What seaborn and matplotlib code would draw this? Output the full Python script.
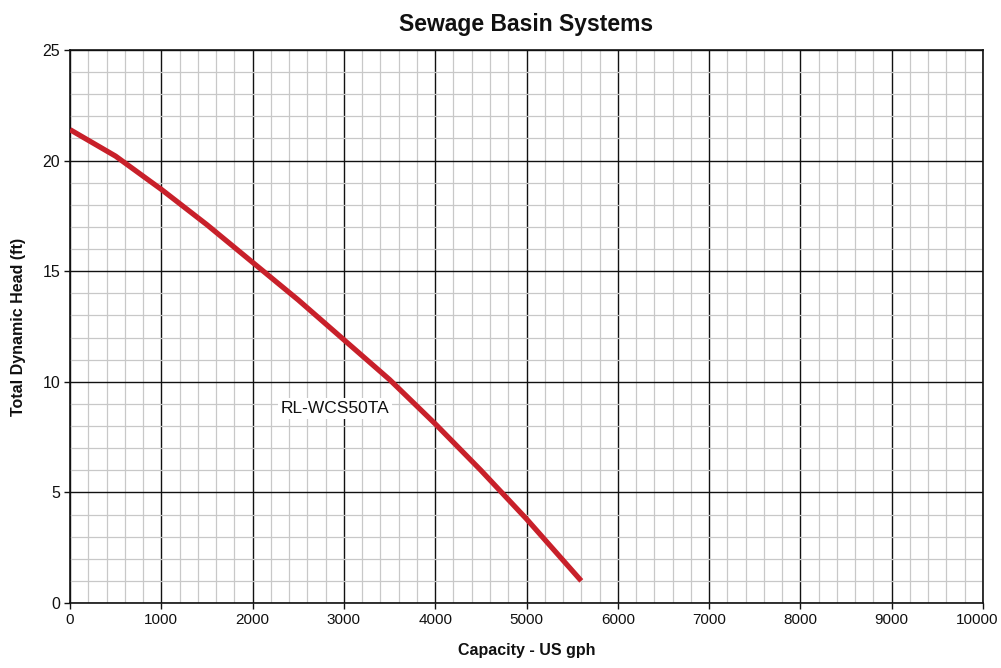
import matplotlib
matplotlib.use("Agg")
import matplotlib.pyplot as plt
import seaborn as sns
import pandas as pd
import numpy as np
from matplotlib.ticker import MultipleLocator, FuncFormatter
from matplotlib import font_manager

capacity = [0, 500, 1000, 1500, 2000, 2500, 3000, 3500, 4000, 4500, 5000, 5600]
head = [21.4, 20.2, 18.7, 17.1, 15.4, 13.7, 11.9, 10.1, 8.1, 6.0, 3.8, 1.0]
model_label = "RL-WCS50TA"
title = "Sewage Basin Systems"
xlabel = "Capacity - US gph"
ylabel = "Total Dynamic Head (ft)"
x_max = 10000

sns.set_theme(style="white")
names = {f.name for f in font_manager.fontManager.ttflist}
fam = "Liberation Sans Narrow" if "Liberation Sans Narrow" in names else "Liberation Sans"
plt.rcParams["font.family"] = [fam, "DejaVu Sans"]

df = pd.DataFrame({"capacity": capacity, "head": head})

fig = plt.figure(figsize=(10.01, 6.68), dpi=100)
ax = fig.add_axes([70/1001, 65/668, 913/1001, 553/668])
sns.lineplot(data=df, x="capacity", y="head", ax=ax, color="#c8202a", linewidth=3.8,
             solid_capstyle="butt", solid_joinstyle="round", zorder=5)

ax.set_xlim(0, x_max)
ax.set_ylim(0, 25)
ax.xaxis.set_major_locator(MultipleLocator(1000))
ax.xaxis.set_minor_locator(MultipleLocator(200))
ax.yaxis.set_major_locator(MultipleLocator(5))
ax.yaxis.set_minor_locator(MultipleLocator(1))
ax.xaxis.set_major_formatter(FuncFormatter(lambda v, p: "" if v >= x_max else f"{v:.0f}"))
ax.grid(which="minor", color="#c8c8c8", linewidth=0.9)
ax.grid(which="major", color="#111111", linewidth=1.0)
ax.set_axisbelow(True)
for s in ax.spines.values():
    s.set_color("#111111")
    s.set_linewidth(1.2)
ax.tick_params(which="major", length=4, width=1, color="#111111", labelsize=11.5,
               labelcolor="#111111", bottom=True, left=True, pad=3)
ax.tick_params(axis="x", which="major", labelsize=11)
ax.tick_params(which="minor", length=0)

# last x tick label, nudged a little left so it stays on the canvas
ax.annotate(f"{x_max}", xy=(x_max, 0), xycoords=("data", "axes fraction"),
            xytext=(-4.5, -7), textcoords="offset points", ha="center", va="top",
            fontsize=11, color="#111111", annotation_clip=False)

ax.set_title(title, fontsize=16.5, fontweight="bold", pad=14, color="#111111")
ax.set_xlabel(xlabel, fontsize=11.5, fontweight="bold", labelpad=12, color="#111111")
ax.set_ylabel(ylabel, fontsize=11.5, fontweight="bold", labelpad=12, color="#111111")

ax.text(2900, 8.8, model_label, fontsize=12.5, ha="center", va="center", color="#111111",
        bbox=dict(facecolor="white", edgecolor="none", pad=2), zorder=4)

fig.savefig("out.png", dpi=100)
